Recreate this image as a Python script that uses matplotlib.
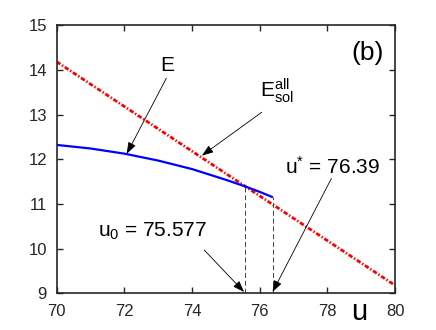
import matplotlib
matplotlib.use("Agg")
import matplotlib.pyplot as plt

# Data
u_E = [70, 71, 72, 73, 74, 75, 75.577, 76, 76.39]
E_vals = [12.32, 12.24, 12.125, 11.97, 11.78, 11.54, 11.39, 11.27, 11.15]
u_sol = [70, 80]
E_sol = [14.18, 9.18]
u0 = 75.577
ustar = 76.39
xticks = [70, 72, 74, 76, 78, 80]
yticks = [9, 10, 11, 12, 13, 14, 15]

plt.rcParams['font.family'] = ['Liberation Sans', 'DejaVu Sans']
plt.rcParams['mathtext.fontset'] = 'custom'
plt.rcParams['mathtext.rm'] = 'Liberation Sans'
plt.rcParams['mathtext.it'] = 'Liberation Sans'

fig = plt.figure(figsize=(4.36, 3.30), dpi=100)
ax = fig.add_axes([0.130, 0.111, 0.776, 0.813])

ax.plot(u_sol, E_sol, color=(1, 0, 0), lw=2.0, linestyle=(0, (1.6, 0.7, 0.5, 0.7)))
ax.plot(u_E, E_vals, color=(0, 0, 1), lw=1.6, solid_capstyle='butt')

# vertical dashed markers
E_u0 = E_vals[u_E.index(u0)]
E_us = E_vals[u_E.index(ustar)]
ax.plot([u0, u0], [9, E_u0], color='#404040', lw=0.7, linestyle=(0, (5, 3)))
ax.plot([ustar, ustar], [9, E_us], color='#404040', lw=0.7, linestyle=(0, (5, 3)))

ax.set_xlim(70, 80)
ax.set_ylim(9, 15)
ax.set_xticks(xticks)
ax.set_yticks(yticks)
ax.tick_params(direction='in', length=4, width=1.0, top=True, right=True,
               labelsize=12, colors='#262626')
ax.tick_params(axis='x', pad=8)
ax.tick_params(axis='y', pad=7)
ax.tick_params(labeltop=False, labelright=False)
for s in ax.spines.values():
    s.set_linewidth(1.2)
    s.set_color('#262626')

aprops = dict(arrowstyle='-|>,head_length=0.7,head_width=0.25', color='black',
              lw=0.6, shrinkA=0, shrinkB=0)

ax.annotate('', xy=(72.07, 12.12), xytext=(73.24, 13.81), arrowprops=aprops)
ax.text(73.28, 14.09, 'E', fontsize=15, ha='center', va='center')

ax.annotate('', xy=(74.29, 12.08), xytext=(76.06, 13.05), arrowprops=aprops)
ax.text(76.02, 13.39, r'E$_{\mathregular{sol}}^{\mathregular{all}}$', fontsize=15,
        ha='left', va='baseline')

ax.annotate('', xy=(76.38, 9.03), xytext=(78.12, 11.57), arrowprops=aprops)
ax.text(76.74, 11.67, r'u$^{*}$ = 76.39', fontsize=15, ha='left', va='baseline')

ax.annotate('', xy=(75.54, 9.03), xytext=(74.36, 9.97), arrowprops=aprops)
ax.text(71.23, 10.27, r'u$_{0}$ = 75.577', fontsize=15, ha='left', va='baseline')

ax.text(79.18, 14.37, '(b)', fontsize=19, ha='center', va='center')
ax.text(78.93, 8.58, 'u', fontsize=21, ha='center', va='center', clip_on=False)

fig.savefig('out.png', dpi=100)
